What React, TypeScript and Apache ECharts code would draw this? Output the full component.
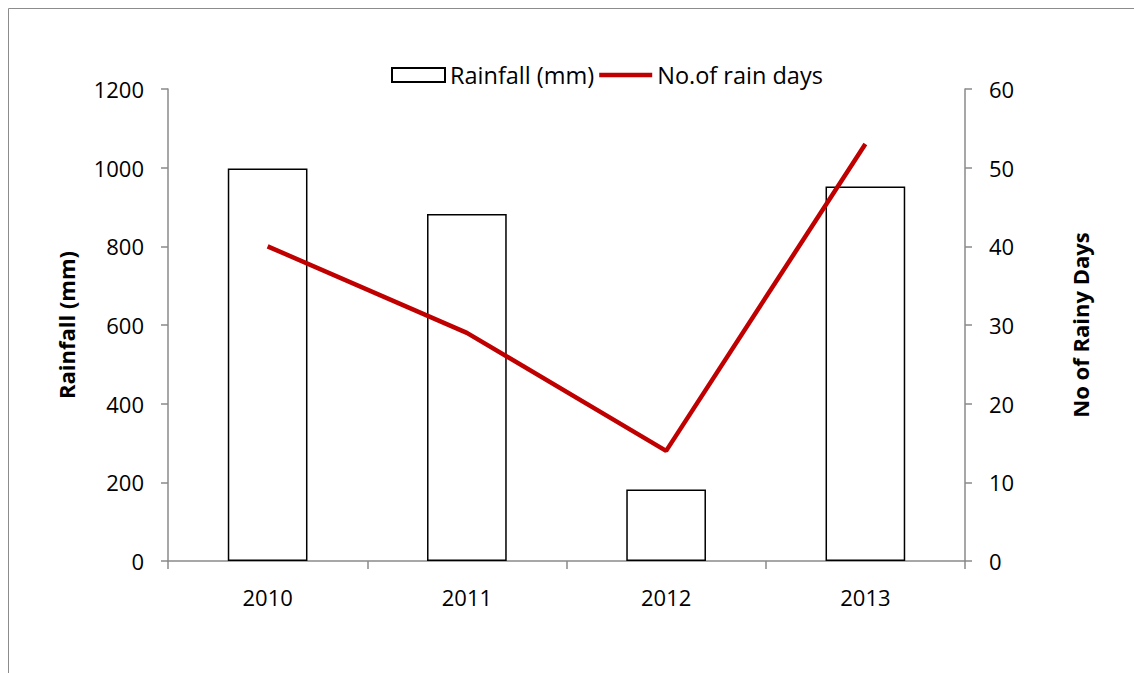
import React, { useEffect, useRef } from "react";
import * as echarts from "echarts";

const years = ["2010", "2011", "2012", "2013"];
const rainfall = [998, 882, 182, 952];
const rainDays = [40, 29, 14, 53];
const leftTicks = [0, 200, 400, 600, 800, 1000, 1200];
const rightTicks = [0, 10, 20, 30, 40, 50, 60];

const FONT = "'Open Sans', sans-serif";
const AXIS_GRAY = "#8a8a8a";
const FS = 22;

export default function App() {
  const ref = useRef<HTMLDivElement>(null);
  useEffect(() => {
    if (!ref.current) return;
    const chart = echarts.init(ref.current, null, { renderer: "svg" });
    chart.setOption({
      animation: false,
      backgroundColor: "#ffffff",
      textStyle: { fontFamily: FONT },
      graphic: [
        {
          type: "rect",
          shape: { x: 8.5, y: 8.5, width: 1300, height: 1000 },
          style: { fill: "none", stroke: "#8c8c8c", lineWidth: 1 },
          silent: true,
        },
      ],
      legend: {
        left: 386,
        top: 58,
        itemWidth: 53,
        itemHeight: 14,
        itemGap: 5,
        symbolKeepAspect: true,
        textStyle: { fontFamily: FONT, fontSize: 23.5, color: "#000" },
        data: [
          { name: "Rainfall (mm)", icon: "rect" },
          { name: "No.of rain days", icon: "path://M0,0H53V4.5H0Z", itemStyle: { color: "#c00000" } },
        ],
      },
      grid: { left: 168, right: 169, top: 89, bottom: 112, containLabel: false },
      xAxis: {
        type: "category",
        data: years,
        boundaryGap: true,
        axisLine: { show: true, lineStyle: { color: AXIS_GRAY, width: 1.5 } },
        axisTick: { show: true, alignWithLabel: false, length: 8, lineStyle: { color: AXIS_GRAY, width: 1.5 } },
        axisLabel: { margin: 25, fontSize: FS, color: "#000", fontFamily: FONT },
        splitLine: { show: false },
      },
      yAxis: [
        {
          type: "value",
          min: 0,
          max: 1200,
          interval: 200,
          name: "Rainfall (mm)",
          nameLocation: "middle",
          nameGap: 91,
          nameRotate: 90,
          nameTextStyle: { fontSize: 22, fontWeight: "bold", color: "#000", fontFamily: FONT },
          axisLine: { show: true, lineStyle: { color: AXIS_GRAY, width: 1.5 } },
          axisTick: { show: true, length: 7, lineStyle: { color: AXIS_GRAY, width: 1.5 } },
          axisLabel: {
            margin: 24,
            fontSize: FS,
            color: "#000",
            fontFamily: FONT,
            formatter: (v: number) => (leftTicks.includes(v) ? String(v) : ""),
          },
          splitLine: { show: false },
        },
        {
          type: "value",
          min: 0,
          max: 60,
          interval: 10,
          position: "right",
          name: "No of Rainy Days",
          nameLocation: "middle",
          nameGap: 104,
          nameRotate: 90,
          nameTextStyle: { fontSize: 22, fontWeight: "bold", color: "#000", fontFamily: FONT },
          axisLine: { show: true, lineStyle: { color: AXIS_GRAY, width: 1.5 } },
          axisTick: { show: true, length: 7, lineStyle: { color: AXIS_GRAY, width: 1.5 } },
          axisLabel: {
            margin: 24,
            fontSize: FS,
            color: "#000",
            fontFamily: FONT,
            formatter: (v: number) => (rightTicks.includes(v) ? String(v) : ""),
          },
          splitLine: { show: false },
        },
      ],
      series: [
        {
          name: "Rainfall (mm)",
          type: "bar",
          data: rainfall,
          yAxisIndex: 0,
          barWidth: "40%",
          itemStyle: { color: "#ffffff", borderColor: "#000000", borderWidth: 1.5 },
        },
        {
          name: "No.of rain days",
          type: "line",
          data: rainDays,
          yAxisIndex: 1,
          symbol: "none",
          showSymbol: false,
          lineStyle: { color: "#c00000", width: 4.5 },
          itemStyle: { color: "#c00000" },
        },
      ],
    });
    return () => chart.dispose();
  }, []);
  return (
    <div
      ref={ref}
      style={{ position: "absolute", left: 0, top: 0, width: 1134, height: 673 }}
    />
  );
}
